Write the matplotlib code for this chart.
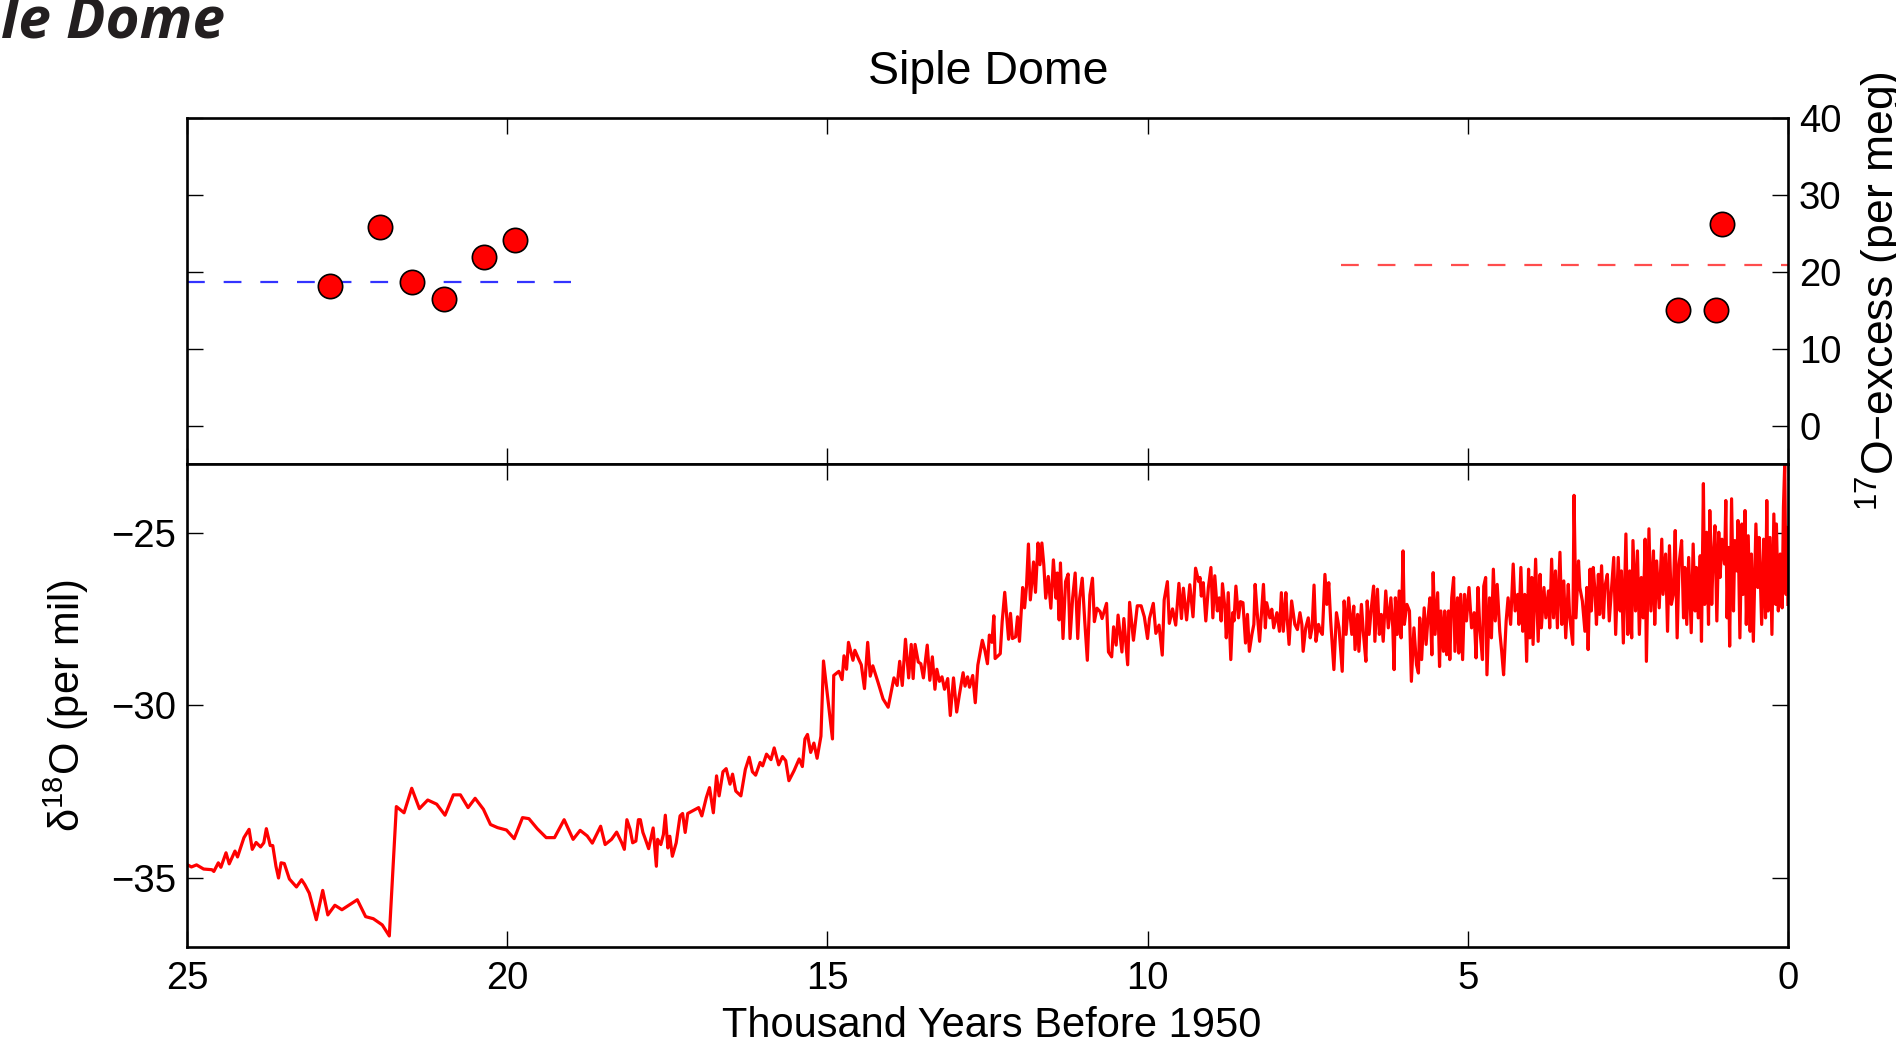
import matplotlib
matplotlib.use("Agg")
import matplotlib.pyplot as plt
import numpy as np

plt.rcParams['font.family'] = ['Liberation Sans', 'DejaVu Sans']
plt.rcParams['mathtext.fontset'] = 'custom'
plt.rcParams['mathtext.rm'] = 'Liberation Sans'
plt.rcParams['mathtext.default'] = 'rm'

# 17O-excess samples (kyr BP, per meg)
glacial_age = [22.77, 21.99, 21.49, 20.99, 20.36, 19.87]
glacial_o17 = [18.2, 25.9, 18.7, 16.5, 21.9, 24.2]
holocene_age = [1.72, 1.13, 1.03]
holocene_o17 = [15.0, 15.0, 26.3]
glacial_mean = 18.75
holocene_mean = 20.9
glacial_span = [25.0, 19.0]
holocene_span = [6.98, 0.0]

# d18O record, glacial part (kyr BP, per mil)
seg_a = [(25.0, -34.61), (24.93, -34.68), (24.85, -34.62), (24.74, -34.74), (24.61, -34.76),
         (24.58, -34.81), (24.51, -34.56), (24.47, -34.69), (24.39, -34.27), (24.34, -34.59),
         (24.25, -34.22), (24.21, -34.39), (24.11, -33.83), (24.03, -33.59), (23.98, -34.17),
         (23.92, -33.97), (23.85, -34.10), (23.80, -33.98), (23.76, -33.57), (23.70, -34.06),
         (23.66, -34.06), (23.61, -34.66), (23.57, -35.0), (23.53, -34.56), (23.48, -34.58),
         (23.40, -35.03), (23.29, -35.26), (23.21, -35.05), (23.16, -35.19), (23.09, -35.44),
         (22.98, -36.21), (22.88, -35.36), (22.80, -36.07), (22.69, -35.79), (22.58, -35.92),
         (22.34, -35.63), (22.21, -36.12), (22.09, -36.18), (21.95, -36.36), (21.84, -36.68),
         (21.73, -32.93), (21.61, -33.11), (21.49, -32.40), (21.37, -32.99), (21.24, -32.74),
         (21.10, -32.86), (20.97, -33.18), (20.84, -32.59), (20.73, -32.59), (20.61, -32.96),
         (20.50, -32.69), (20.37, -33.01), (20.26, -33.45), (20.15, -33.54), (20.01, -33.61),
         (19.89, -33.86), (19.76, -33.25), (19.66, -33.28), (19.53, -33.57), (19.39, -33.83),
         (19.26, -33.83), (19.11, -33.31), (18.97, -33.88), (18.86, -33.62), (18.75, -33.78),
         (18.67, -33.99), (18.54, -33.50), (18.47, -34.03), (18.37, -33.88), (18.29, -33.67),
         (18.21, -33.98), (18.17, -34.17), (18.13, -33.31), (18.08, -33.59), (18.04, -33.98),
         (17.99, -33.93), (17.95, -33.31), (17.92, -33.31), (17.88, -33.68), (17.85, -33.83),
         (17.79, -34.15), (17.72, -33.55), (17.67, -34.66), (17.65, -33.88), (17.60, -34.03),
         (17.56, -33.74), (17.53, -33.18), (17.49, -34.13), (17.46, -33.79), (17.42, -34.37),
         (17.36, -33.98), (17.30, -33.20), (17.26, -33.13), (17.22, -33.68), (17.18, -33.13),
         (17.01, -32.96)]

# deglaciation and early Holocene
seg_b = [(16.96, -33.20), (16.89, -32.67), (16.84, -32.38), (16.78, -33.11), (16.73, -32.04),
         (16.69, -32.62), (16.63, -31.92), (16.58, -31.83), (16.52, -32.28), (16.48, -31.99),
         (16.43, -32.48), (16.35, -32.62), (16.28, -31.85), (16.22, -31.50), (16.17, -31.92),
         (16.12, -32.02), (16.05, -31.65), (16.01, -31.75), (15.95, -31.41), (15.88, -31.57),
         (15.83, -31.23), (15.76, -31.72), (15.70, -31.48), (15.65, -31.60), (15.60, -32.18),
         (15.52, -31.89), (15.44, -31.55), (15.39, -31.77), (15.35, -30.97), (15.31, -30.84),
         (15.26, -31.36), (15.21, -31.09), (15.16, -31.53), (15.10, -30.89), (15.06, -28.71),
         (14.92, -30.97), (14.90, -29.13), (14.82, -29.01), (14.77, -29.25), (14.74, -28.56),
         (14.70, -28.95), (14.67, -28.17), (14.60, -28.69), (14.57, -28.40), (14.51, -28.66),
         (14.47, -28.82), (14.42, -29.51), (14.37, -28.17), (14.33, -29.15), (14.29, -28.85),
         (14.21, -29.32), (14.13, -29.81), (14.05, -30.05), (13.96, -29.20), (13.91, -29.42),
         (13.87, -28.72), (13.83, -29.42), (13.78, -28.08), (13.73, -29.20), (13.69, -28.23),
         (13.66, -29.22), (13.63, -28.23), (13.58, -28.74), (13.54, -28.79), (13.50, -29.20),
         (13.44, -28.25), (13.40, -29.27), (13.36, -28.59), (13.32, -29.53), (13.29, -28.95),
         (13.25, -29.30), (13.21, -29.17), (13.17, -29.53), (13.12, -29.22), (13.08, -30.29),
         (13.03, -29.20), (12.98, -30.19), (12.94, -29.71), (12.88, -29.05), (12.85, -29.44),
         (12.81, -29.17), (12.78, -29.47), (12.73, -29.13), (12.69, -29.92), (12.65, -28.83),
         (12.58, -28.11), (12.54, -28.40), (12.50, -28.79), (12.47, -27.96), (12.43, -28.17),
         (12.40, -27.40), (12.38, -28.64), (12.30, -28.50), (12.27, -27.57), (12.23, -26.72),
         (12.17, -28.08), (12.14, -27.33), (12.11, -28.06), (12.06, -28.01), (12.03, -27.43),
         (12.00, -28.14), (11.95, -26.58), (11.92, -27.17), (11.89, -26.55), (11.86, -25.32),
         (11.83, -26.94), (11.78, -25.84), (11.75, -26.72), (11.71, -25.29), (11.68, -25.92),
         (11.65, -25.29), (11.62, -25.92), (11.59, -26.89), (11.55, -26.26), (11.51, -27.18),
         (11.47, -25.78), (11.43, -26.89), (11.41, -26.16), (11.38, -27.52), (11.36, -25.87),
         (11.32, -28.06), (11.28, -26.41), (11.24, -26.19), (11.21, -28.06), (11.17, -26.89),
         (11.13, -26.16), (11.09, -28.06), (11.06, -26.89), (11.02, -26.31), (10.98, -27.57),
         (10.94, -28.69), (10.90, -26.80), (10.86, -26.31), (10.83, -27.57), (10.79, -27.18),
         (10.74, -27.28), (10.71, -27.48), (10.64, -27.04), (10.61, -28.45), (10.56, -28.59),
         (10.53, -27.72), (10.49, -28.25), (10.46, -27.38), (10.40, -28.45), (10.37, -27.48),
         (10.31, -28.82), (10.28, -27.01), (10.22, -28.11), (10.16, -27.11), (10.10, -27.11),
         (10.05, -27.43), (10.00, -28.06), (9.97, -27.48), (9.91, -27.04), (9.87, -27.91),
         (9.82, -27.67), (9.77, -28.54), (9.74, -26.94), (9.69, -26.41), (9.66, -27.62),
         (9.61, -27.20), (9.56, -27.67), (9.51, -26.46), (9.47, -27.48), (9.44, -26.60),
         (9.39, -27.52), (9.34, -26.50), (9.29, -27.43), (9.25, -26.02), (9.20, -26.41)]

# mid Holocene
seg_c = [(9.18, -26.29), (9.16, -26.83), (9.13, -26.44), (9.09, -27.55), (9.05, -26.58),
         (9.01, -26.00), (8.98, -27.46), (8.95, -26.24), (8.91, -27.26), (8.88, -26.88),
         (8.85, -27.55), (8.83, -26.47), (8.79, -27.21), (8.77, -28.04), (8.74, -26.73),
         (8.70, -28.67), (8.67, -27.31), (8.65, -27.55), (8.62, -26.54), (8.58, -27.46),
         (8.55, -26.99), (8.51, -27.02), (8.47, -28.19), (8.44, -27.36), (8.41, -28.43),
         (8.37, -27.94), (8.34, -27.65), (8.32, -26.49), (8.29, -27.26), (8.25, -28.14),
         (8.22, -27.31), (8.19, -26.49), (8.16, -27.75), (8.14, -27.02), (8.09, -27.46),
         (8.06, -27.21), (8.03, -27.75), (7.98, -27.31), (7.94, -27.85), (7.91, -26.73),
         (7.88, -27.85), (7.84, -26.73), (7.82, -27.46), (7.79, -28.23), (7.75, -26.97),
         (7.70, -27.65), (7.66, -27.80), (7.62, -27.31), (7.59, -27.65), (7.57, -28.43),
         (7.53, -27.75), (7.49, -27.46), (7.46, -28.04), (7.43, -27.75), (7.40, -26.51),
         (7.37, -28.14), (7.33, -27.65), (7.30, -27.85), (7.27, -27.94), (7.23, -26.20),
         (7.20, -27.07), (7.17, -26.44), (7.14, -27.55), (7.09, -28.96), (7.05, -27.31),
         (7.01, -27.75), (6.96, -29.01), (6.93, -26.97), (6.90, -27.94), (6.86, -26.88),
         (6.81, -27.94), (6.78, -27.12), (6.76, -28.38), (6.72, -27.36), (6.70, -28.43),
         (6.66, -27.07), (6.63, -27.89), (6.59, -28.72), (6.57, -26.97), (6.54, -27.94),
         (6.51, -27.26), (6.47, -26.54), (6.45, -28.14), (6.41, -26.63), (6.38, -27.94),
         (6.35, -27.36), (6.32, -28.14), (6.28, -26.68), (6.24, -27.75), (6.20, -26.88),
         (6.17, -27.75), (6.15, -28.96), (6.13, -26.88), (6.10, -27.94), (6.07, -26.68),
         (6.04, -28.04), (6.01, -25.52), (5.99, -27.65), (5.95, -27.07), (5.91, -27.26),
         (5.88, -29.30), (5.84, -27.75), (5.80, -28.82), (5.77, -29.06), (5.75, -27.46),
         (5.72, -28.67), (5.68, -27.17), (5.65, -28.23), (5.62, -27.46), (5.59, -26.88),
         (5.56, -28.53), (5.54, -26.15), (5.51, -27.94), (5.47, -26.73), (5.44, -28.87),
         (5.42, -27.26), (5.38, -28.43), (5.36, -27.26), (5.33, -28.53), (5.30, -27.26),
         (5.28, -28.67), (5.25, -26.88), (5.22, -26.29), (5.20, -28.43), (5.16, -26.88),
         (5.14, -28.48), (5.11, -26.78), (5.08, -28.67), (5.05, -26.78), (5.02, -27.55),
         (4.98, -26.58), (4.94, -27.75), (4.90, -27.31), (4.87, -28.62), (4.84, -26.58),
         (4.81, -27.80), (4.77, -28.67), (4.75, -26.54), (4.72, -26.29), (4.70, -29.11),
         (4.66, -26.88), (4.63, -28.04), (4.60, -26.05), (4.57, -27.55), (4.54, -26.49)]

# late Holocene
seg_d = [(4.50, -27.85), (4.47, -28.43), (4.44, -29.11), (4.40, -27.55), (4.37, -26.88),
         (4.33, -27.65), (4.29, -25.90), (4.26, -27.26), (4.22, -26.78), (4.20, -27.65),
         (4.17, -26.00), (4.14, -27.85), (4.11, -26.78), (4.08, -28.72), (4.05, -26.05),
         (4.03, -28.04), (4.00, -26.29), (3.98, -28.23), (3.94, -25.76), (3.90, -28.14),
         (3.87, -26.20), (3.85, -27.75), (3.81, -26.58), (3.78, -27.46), (3.74, -26.68),
         (3.72, -27.75), (3.69, -25.76), (3.66, -27.46), (3.63, -26.10), (3.60, -27.75),
         (3.56, -25.56), (3.53, -27.65), (3.50, -26.39), (3.47, -28.04), (3.43, -26.49),
         (3.41, -27.36), (3.36, -28.23), (3.34, -23.91), (3.31, -27.46), (3.27, -25.81),
         (3.25, -26.58), (3.21, -26.97), (3.17, -27.85), (3.14, -26.58), (3.12, -28.38),
         (3.09, -26.05), (3.07, -27.26), (3.04, -26.00), (3.01, -26.78), (2.99, -27.65),
         (2.96, -26.20), (2.94, -27.36), (2.91, -25.95), (2.88, -27.46), (2.86, -26.58),
         (2.82, -26.20), (2.79, -27.55), (2.75, -26.49), (2.72, -25.71), (2.69, -27.94),
         (2.65, -25.71), (2.62, -27.26), (2.60, -26.10), (2.57, -28.19), (2.53, -25.03),
         (2.50, -27.94), (2.47, -26.10), (2.44, -28.04), (2.42, -25.22), (2.38, -27.26),
         (2.35, -25.52), (2.32, -27.94), (2.29, -26.29), (2.26, -27.46), (2.23, -25.18),
         (2.21, -28.72), (2.17, -24.88), (2.14, -27.26), (2.10, -25.52), (2.08, -27.65),
         (2.05, -25.81), (2.01, -27.17), (1.97, -25.18), (1.95, -26.78), (1.91, -25.61),
         (1.88, -27.85), (1.85, -25.37), (1.82, -27.07), (1.79, -26.78), (1.76, -24.93),
         (1.73, -28.04), (1.70, -25.90), (1.66, -25.22), (1.63, -27.46), (1.61, -26.00),
         (1.58, -27.65), (1.55, -25.71), (1.51, -27.89), (1.48, -25.32), (1.45, -27.26),
         (1.43, -26.00), (1.40, -27.46), (1.37, -25.66), (1.35, -28.14), (1.32, -23.57),
         (1.30, -27.07), (1.27, -24.98), (1.24, -27.65), (1.22, -24.35), (1.19, -27.07),
         (1.17, -25.81), (1.14, -24.79), (1.11, -27.55), (1.08, -24.98), (1.06, -26.29),
         (1.03, -25.18), (0.99, -25.90), (0.97, -24.06), (0.95, -27.46), (0.93, -25.42),
         (0.91, -28.28), (0.88, -24.01), (0.85, -27.26), (0.83, -25.22), (0.80, -26.10),
         (0.78, -24.64), (0.75, -28.04), (0.72, -24.74), (0.70, -26.78), (0.67, -24.35),
         (0.65, -27.65), (0.62, -25.08), (0.59, -27.85), (0.57, -25.61), (0.54, -28.14),
         (0.50, -24.74), (0.47, -26.58), (0.45, -25.13), (0.41, -27.65), (0.38, -25.18),
         (0.35, -27.46), (0.33, -24.06), (0.31, -27.26), (0.28, -25.13), (0.25, -27.94),
         (0.22, -24.45), (0.19, -27.07), (0.18, -24.74), (0.15, -27.26), (0.12, -25.61),
         (0.09, -27.17), (0.07, -24.25), (0.05, -23.0), (0.03, -26.78), (0.01, -24.84),
         (0.0, -27.07)]

record = np.array(seg_a + seg_b + seg_c + seg_d)
age, d18o = record[:, 0], record[:, 1]

xticks = [25, 20, 15, 10, 5, 0]

fig = plt.figure(figsize=(18.96, 10.41), dpi=100, facecolor='white')
ax1 = fig.add_axes([0.0986, 0.5543, 0.8444, 0.3319])
ax2 = fig.add_axes([0.0986, 0.0903, 0.8444, 0.4640])

# top panel: 17O-excess
ax1.plot(glacial_span, [glacial_mean, glacial_mean], color=(0.2, 0.2, 1.0), lw=1.6, dashes=(8, 8.5))
ax1.plot(holocene_span, [holocene_mean, holocene_mean], color=(1.0, 0.3, 0.3), lw=1.6, dashes=(8, 8.5))
ax1.plot(glacial_age, glacial_o17, 'o', ms=17.5, mfc='red', mec='black', mew=1.2)
ax1.plot(holocene_age, holocene_o17, 'o', ms=17.5, mfc='red', mec='black', mew=1.2)
ax1.set_xlim(25, 0)
ax1.set_ylim(-5, 40)
ax1.set_xticks(xticks)
ax1.set_xticklabels([])
ax1.set_yticks([0, 10, 20, 30, 40])
ax1.yaxis.tick_right()
ax1.tick_params(axis='both', direction='in', length=11.5, width=1.0,
                top=True, bottom=True, left=True, right=True, labelsize=27.5)
ax1.tick_params(axis='y', labelleft=False, labelright=True, pad=8)

# bottom panel: d18O
ax2.plot(age, d18o, color='red', lw=2.3)
ax2.set_xlim(25, 0)
ax2.set_ylim(-37, -23)
ax2.set_xticks(xticks)
ax2.set_yticks([-35, -30, -25])
ax2.tick_params(axis='both', direction='in', length=11.5, width=1.0,
                top=True, bottom=True, left=True, right=True, labelsize=27.5)
ax2.tick_params(axis='x', pad=10)
ax2.tick_params(axis='y', pad=8)

for ax in (ax1, ax2):
    for s in ax.spines.values():
        s.set_linewidth(1.9)

fig.text(0.521, 0.9193, 'Siple Dome', ha='center', va='baseline', fontsize=33.5)
fig.text(0.1187, 0.9635, 'Siple Dome', ha='right', va='baseline', fontsize=42,
         family='Open Sans', weight='bold', style='italic', color='#231f20')
fig.text(0.523, 0.0041, 'Thousand Years Before 1950', ha='center', va='baseline', fontsize=30)
fig.text(0.048, 0.3223, 'δ$^{18}$O (per mil)', ha='right', va='center', rotation=90, fontsize=30)
fig.text(0.978, 0.7202, '$^{17}$O\u2212excess (per meg)', ha='left', va='center', rotation=90, fontsize=32)

fig.savefig('out.png', dpi=100, facecolor='white')
